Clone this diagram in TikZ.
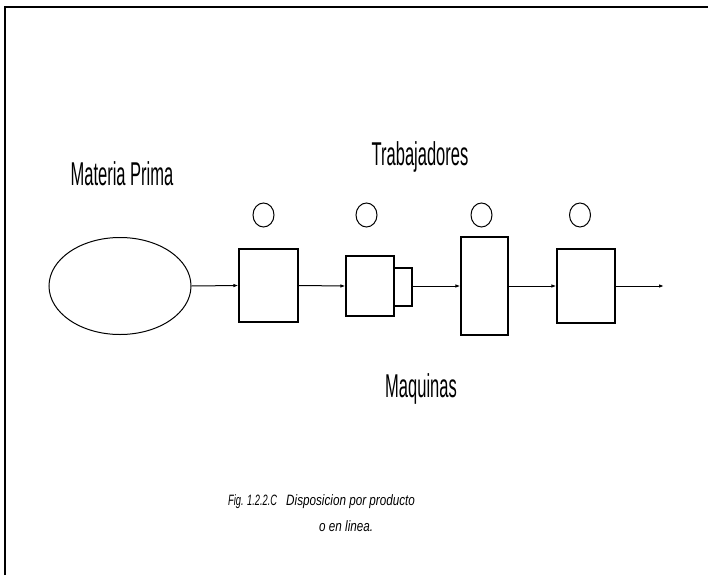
\documentclass[tikz,border=0pt]{standalone}
\usepackage{fontspec}
\usetikzlibrary{shapes.geometric,arrows.meta}
\newfontfamily\narrowfont[FakeStretch=0.5]{Liberation Sans}
\newfontfamily\capfont[FakeStretch=0.78]{Liberation Sans Italic}
\newfontfamily\figfont[FakeStretch=0.62]{Liberation Sans Italic}
\begin{document}
\begin{tikzpicture}[x=1pt,y=-1pt,
  lbl/.style={font=\narrowfont\fontsize{33}{36}\selectfont, anchor=base, inner sep=0pt},
  capt/.style={font=\capfont\fontsize{15}{17}\selectfont, anchor=base west, inner sep=0pt},
  machine/.style={draw, line width=1.1pt, rectangle, inner sep=0pt},
  worker/.style={draw, line width=1pt, ellipse, minimum width=21pt, minimum height=24pt, inner sep=0pt},
  flow/.style={line width=1pt, -{Latex[length=5pt,width=3.5pt]}}]
\useasboundingbox (0,0) rectangle (708,575);
% frame
\draw[line width=1.8pt] (5,575) -- (5,7) -- (708,7);
% labels
\node[lbl] (mp) at (122,185) {Materia Prima};
\node[lbl] (tr) at (420,165) {Trabajadores};
\node[lbl] (mq) at (421,397) {Maquinas};
% raw material
\node[draw, line width=1pt, ellipse, minimum width=142pt, minimum height=97pt, inner sep=0pt] (ell) at (120,286) {};
% machines
\node[machine, minimum width=59pt, minimum height=73pt] (b1) at (268.5,285.5) {};
\node[machine, minimum width=48pt, minimum height=60pt] (b2) at (370,286) {};
\node[machine, minimum width=18pt, minimum height=38pt] (b2s) at (403,287) {};
\node[machine, minimum width=47pt, minimum height=98pt] (b3) at (484.5,286) {};
\node[machine, minimum width=58pt, minimum height=74pt] (b4) at (586,286) {};
\coordinate (out) at (664,286);
% workers
\node[worker] (w1) at (263.5,215) {};
\node[worker] (w2) at (366.5,215) {};
\node[worker] (w3) at (481.5,215) {};
\node[worker] (w4) at (580,215) {};
% flow
\draw[flow] (ell.east) -- (b1.west);
\draw[flow] (b1.east) -- (b2.west);
\draw[flow] (b2s.east |- b3.west) -- (b3.west);
\draw[flow] (b3.east) -- (b4.west);
\draw[flow] (b4.east) -- (out);
% caption
\node[capt, font=\figfont\fontsize{15}{17}\selectfont] (c1) at (228,505) {Fig. 1.2.2.C};
\node[capt] (c2) at (286,505) {Disposicion por producto};
\node[capt] (c3) at (319,531) {o en linea.};
\end{tikzpicture}
\end{document}
